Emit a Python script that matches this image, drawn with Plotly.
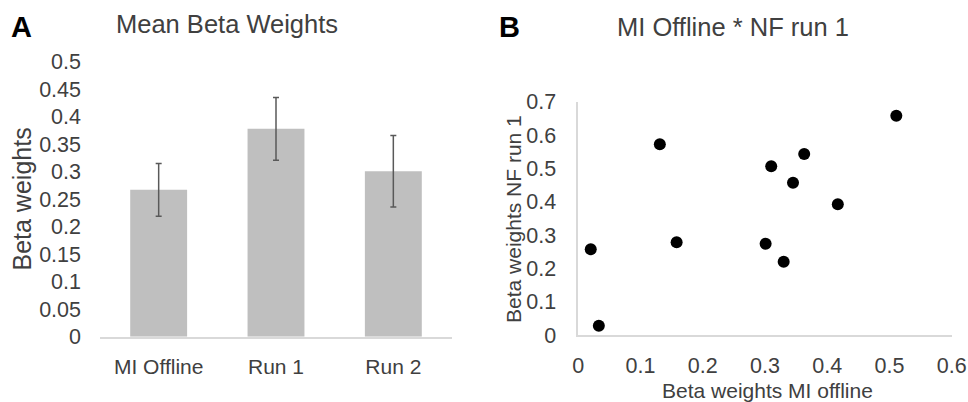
import plotly.graph_objects as go

# ---- data ----
bar_categories = ["MI Offline", "Run 1", "Run 2"]
bar_means = [0.267, 0.378, 0.301]
bar_errors = [0.048, 0.057, 0.065]
left_yticks = [0, 0.05, 0.1, 0.15, 0.2, 0.25, 0.3, 0.35, 0.4, 0.45, 0.5]
left_yticklabels = ["0", "0.05", "0.1", "0.15", "0.2", "0.25", "0.3", "0.35", "0.4", "0.45", "0.5"]

mi_offline = [0.020, 0.033, 0.131, 0.158, 0.301, 0.310, 0.330, 0.345, 0.363, 0.417, 0.511]
nf_run1 = [0.257, 0.028, 0.572, 0.278, 0.274, 0.506, 0.220, 0.457, 0.543, 0.392, 0.658]
right_xticks = [0, 0.1, 0.2, 0.3, 0.4, 0.5, 0.6]
right_yticks = [0, 0.1, 0.2, 0.3, 0.4, 0.5, 0.6, 0.7]

FONT = "Liberation Sans, Arial, sans-serif"
TXT = "#404040"
W, H = 968, 402

def px(x):
    return x / W

def py(y):
    return 1 - y / H

fig = go.Figure()

fig.add_trace(go.Bar(
    x=bar_categories, y=bar_means,
    marker=dict(color="#bfbfbf", line=dict(width=0)),
    error_y=dict(type="data", array=bar_errors, visible=True,
                 color="#595959", thickness=1.5, width=3),
    xaxis="x", yaxis="y", showlegend=False,
))

fig.add_trace(go.Scatter(
    x=mi_offline, y=nf_run1, mode="markers",
    marker=dict(color="black", size=12),
    xaxis="x2", yaxis="y2", showlegend=False,
))

fig.update_layout(
    template="none",
    width=W, height=H, autosize=False,
    margin=dict(l=0, r=0, t=0, b=0, pad=0, autoexpand=False),
    paper_bgcolor="white", plot_bgcolor="white",
    font=dict(family=FONT, color=TXT, size=20),
    bargap=0.515,
    showlegend=False,
    xaxis=dict(domain=[px(100), px(452)], showgrid=False, zeroline=False,
               showline=True, linecolor="#d9d9d9", linewidth=1.5,
               ticks="", tickfont=dict(size=21, color=TXT), automargin=False,
               ticklabelstandoff=10, fixedrange=True),
    yaxis=dict(domain=[py(336.7), py(61.7)], range=[0, 0.5],
               tickvals=left_yticks, ticktext=left_yticklabels, automargin=False,
               showgrid=False, zeroline=False, showline=False, ticks="",
               tickfont=dict(size=21.5, color=TXT), ticklabelstandoff=18),
    xaxis2=dict(domain=[px(578.3), px(951.7)], range=[0, 0.6], anchor="y2",
                tickvals=right_xticks, ticktext=[f"{v:g}" for v in right_xticks],
                showgrid=False, zeroline=False, showline=True, automargin=False,
                linecolor="#d9d9d9", linewidth=1.5, ticks="",
                tickfont=dict(size=21.5, color=TXT), ticklabelstandoff=10),
    yaxis2=dict(domain=[py(335), py(101.7)], range=[0, 0.7], anchor="x2",
                tickvals=right_yticks, ticktext=[f"{v:g}" for v in right_yticks],
                showgrid=False, zeroline=False, showline=True, automargin=False,
                linecolor="#d9d9d9", linewidth=1.5, ticks="",
                tickfont=dict(size=21.5, color=TXT), ticklabelstandoff=16),
)

def ann(text, x, y, size, color=TXT, bold=False, angle=0):
    fig.add_annotation(
        text=f"<b>{text}</b>" if bold else text,
        x=px(x), y=py(y), xref="paper", yref="paper",
        xanchor="center", yanchor="middle", showarrow=False,
        textangle=angle, font=dict(size=size, color=color, family=FONT),
    )

ann("A", 21.5, 27, 29, color="black", bold=True)
ann("Mean Beta Weights", 227, 24, 25.5)
ann("Beta weights", 21.5, 199, 25, angle=-90)
ann("B", 510, 27, 29, color="black", bold=True)
ann("MI Offline * NF run 1", 733, 27, 25.5)
ann("Beta weights NF run 1", 513, 219, 21, angle=-90)
ann("Beta weights MI offline", 767, 390, 21)

fig.write_html(
    "out.html",
    config={"displayModeBar": False},
    post_script="document.body.style.margin='0';document.body.style.overflow='hidden';",
)
